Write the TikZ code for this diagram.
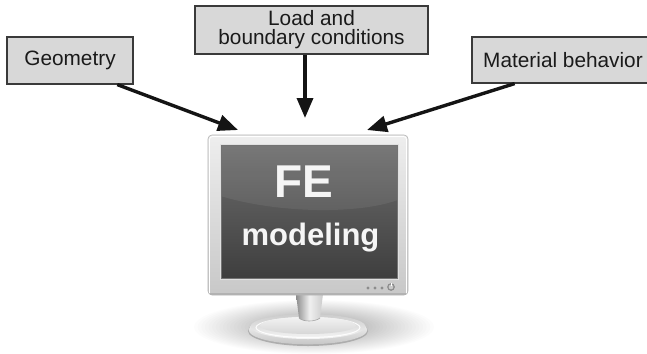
\documentclass[tikz,border=0pt]{standalone}
\usepackage{fontspec}
\setmainfont{Liberation Sans}
\usetikzlibrary{arrows.meta,shadings}

\definecolor{boxfill}{HTML}{D8D8D8}
\definecolor{boxline}{HTML}{3A3A3A}
\definecolor{inktext}{HTML}{1A1A1A}
\definecolor{framelight}{HTML}{EEEEEE}
\definecolor{framedark}{HTML}{C8C8C8}
\definecolor{screentop}{HTML}{6E6E6E}
\definecolor{screenbottom}{HTML}{3E3E3E}

\tikzset{
  labelbox/.style={draw=boxline, line width=1.2pt, fill=boxfill, inner sep=0pt,
    text=inktext, align=center, font={\fontsize{20.8}{19}\selectfont}},
  feed/.style={line width=3.4pt, draw=black!92,
    -{Triangle[length=20pt,width=16pt]}},
  screentext/.style={text=white!96!black, inner sep=0pt, font=\bfseries},
}

\begin{document}
\begin{tikzpicture}[x=1pt,y=-1pt]
\useasboundingbox (0,0) rectangle (647,353);
\fill[white] (0,0) rectangle (647,353);

% ---------- input boxes ----------
\node[labelbox, minimum width=126pt, minimum height=47pt] (geo) at (70,60.5) {Geometry};
\node[labelbox, minimum width=233pt, minimum height=48pt] (load) at (311.5,30) {Load and\\boundary conditions};
\node[labelbox, minimum width=182pt, minimum height=46pt] (mat) at (563,60) {Material behavior};

% ---------- monitor ----------
% soft floor shadow: stacked translucent ellipses
\foreach \k in {0,...,24}
  \fill[black, opacity=0.013] (314,327) ellipse [x radius={120-3.6*\k}, y radius={27-0.8*\k}];

% base disc: rim and top surface
\fill[black!32] (308,331) ellipse [x radius=60, y radius=15];
\shade[top color=white, bottom color=black!22] (308,330) ellipse [x radius=59.3, y radius=14.3];
\shade[top color=black!20, bottom color=black!4] (308,326.5) ellipse [x radius=57.5, y radius=12.5];
\draw[white, line width=1pt, opacity=.9] (308,327.5) ellipse [x radius=52, y radius=10];
\shade[top color=black!5, bottom color=black!16] (308,325.5) ellipse [x radius=48, y radius=8.5];

% neck
\shade[left color=black!45, right color=black!20, middle color=black!6]
  (296,294) -- (323,294) -- (320,318) .. controls (315,322) and (303,322) .. (299,318) -- cycle;
\draw[black!35, line width=.6pt]
  (299,318) .. controls (303,322) and (315,322) .. (320,318);

% frame
\node[rounded corners=4pt, minimum width=200pt, minimum height=160pt, inner sep=0pt,
  top color=framelight, bottom color=framedark, draw=black!30, line width=.6pt]
  (monitor) at (308,215) {};
\draw[white, line width=.8pt, rounded corners=3pt]
  (209.5,293) -- (209.5,136.5) -- (406.5,136.5) -- (406.5,293);
\fill[black!30] (210,293) rectangle (406,295);

% screen
\node[minimum width=178pt, minimum height=135pt, inner sep=0pt,
  top color=screentop, bottom color=screenbottom, draw=black!12, line width=1pt]
  (screen) at (309,211.5) {};
\fill[white, opacity=.07]
  (220.5,144.5) -- (397.5,144.5) -- (397.5,200)
  .. controls (360,214) and (280,214) .. (220.5,196) -- cycle;
\draw[black!55, line width=.6pt] (221,145) rectangle (397,278);

% buttons
\foreach \bx in {368,375,382}
  \fill[black!45] (\bx,288) circle [radius=1.6];
\draw[black!45, line width=1.2pt] (391,287) circle [radius=3.2];
\draw[white, line width=.8pt] (391,283.2) -- (391,286);

% screen text
\node[screentext, font={\bfseries\fontsize{46}{46}\selectfont}] (fe) at (304,182) {FE};
\node[screentext, font={\bfseries\fontsize{31}{31}\selectfont}] (modeling) at (310.5,238) {modeling};

% ---------- connectors ----------
\coordinate (geoTip) at (238,130);
\coordinate (loadTip) at (305,118);
\coordinate (matTip) at (367,130);
\draw[feed] (geo.-27.6) -- (geoTip);
\draw[feed] (load.south -| loadTip) -- (loadTip);
\draw[feed] (mat.206.6) -- (matTip);
\end{tikzpicture}
\end{document}
